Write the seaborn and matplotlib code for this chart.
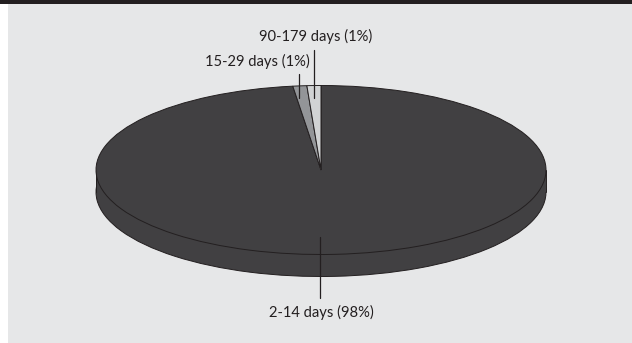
import matplotlib
matplotlib.use("Agg")
import matplotlib.pyplot as plt
from matplotlib.patches import Rectangle
import seaborn as sns

# Length-of-stay categories and their shares (percent)
categories = ["2-14 days", "15-29 days", "90-179 days"]
shares = [98, 1, 1]
slice_colors = ["#414042", "#939598", "#d1d3d4"]

INK = "#231f20"
PANEL = "#e6e7e8"
W, H = 632, 343

sns.set_theme(style="white")
plt.rcParams["font.family"] = ["Lato", "DejaVu Sans"]

# Disc geometry in pixels: flattened ellipse with a shallow rim
cx, cy, rx, ry, depth = 321.0, 170.0, 225.0, 84.5, 22.0


def to_x(px):
    return (px - cx) / rx


def to_y(py):
    return (cy - py) / ry


fig = plt.figure(figsize=(W / 100, H / 100), dpi=100, facecolor="white")
ax = fig.add_axes([0, 0, 1, 1])

# Page furniture: grey panel and a dark strip along the top
ax.add_patch(Rectangle((to_x(8), to_y(H)), to_x(W) - to_x(8), to_y(4) - to_y(H),
                       facecolor=PANEL, edgecolor="none", zorder=0))
ax.add_patch(Rectangle((to_x(0), to_y(4)), to_x(W) - to_x(0), to_y(0) - to_y(4),
                       facecolor=INK, edgecolor="none", zorder=0))

offset = depth / ry

# Rim: a lower copy of the pie joined to the top face by a filled band
ax.pie(shares, colors=[slice_colors[0]] * 3, startangle=90, counterclock=False,
       center=(0, -offset), radius=1,
       wedgeprops=dict(edgecolor=INK, linewidth=0.7, zorder=1))
ax.add_patch(Rectangle((-1, -offset), 2, offset, facecolor=slice_colors[0],
                       edgecolor="none", zorder=1.5))
ax.plot([-1, -1], [-offset, 0], color=INK, lw=0.7, zorder=1.6)
ax.plot([1, 1], [-offset, 0], color=INK, lw=0.7, zorder=1.6)

# Top face
ax.pie(shares, colors=slice_colors, startangle=90, counterclock=False,
       center=(0, 0), radius=1,
       wedgeprops=dict(edgecolor=INK, linewidth=0.7, zorder=2))

# The pie call fixes equal aspect and its own limits; restore the pixel frame
ax.set_aspect("auto")
ax.set_xlim(to_x(0), to_x(W))
ax.set_ylim(to_y(H), to_y(0))
ax.set_frame_on(False)

# Leader lines and their labels: (line x, line top, line bottom, text x, text y, anchor)
callouts = [
    (320.5, 237, 298, 321, 312, "center"),
    (299.0, 74, 98, 310, 61, "right"),
    (314.0, 50, 98, 316, 36, "center"),
]
for i, (name, share) in enumerate(zip(categories, shares)):
    lx, top, bottom, tx, ty, anchor = callouts[i]
    ax.plot([to_x(lx), to_x(lx)], [to_y(top), to_y(bottom)], color=INK, lw=0.9, zorder=3)
    ax.text(to_x(tx), to_y(ty), f"{name} ({share}%)", ha=anchor, va="center",
            fontsize=10.6, color=INK, zorder=4)

fig.savefig("out.png", dpi=100)
